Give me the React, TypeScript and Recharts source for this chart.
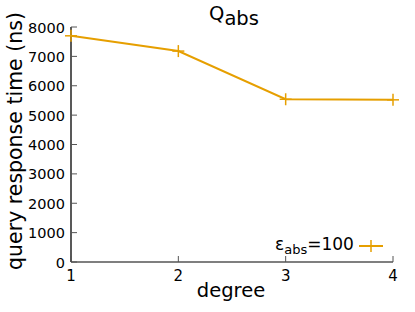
import { LineChart, Line, XAxis, YAxis, Legend } from 'recharts';

const degrees = [1, 2, 3, 4];
const responseTime = [7700, 7180, 5540, 5520];
const xTicks = [1, 2, 3, 4];
const yTicks = [0, 1000, 2000, 3000, 4000, 5000, 6000, 7000, 8000];

const ORANGE = '#e69f00';
const AXIS = '#555';
const FONT = 'DejaVu Sans, sans-serif';

const data = degrees.map((d, i) => ({ degree: d, time: responseTime[i] }));

const Cross = (props: any) => {
  const { cx, cy } = props;
  if (cx == null || cy == null) return null;
  return (
    <g stroke={ORANGE} strokeWidth={1.5}>
      <line x1={cx - 6} y1={cy} x2={cx + 6} y2={cy} />
      <line x1={cx} y1={cy - 6} x2={cx} y2={cy + 6} />
    </g>
  );
};

const BottomTick = (props: any) => {
  const { x, y, payload } = props;
  return (
    <g>
      <line x1={x} y1={y} x2={x} y2={y - 6} stroke={AXIS} strokeWidth={1} />
      <text x={x} y={y + 19} textAnchor="middle" fontSize={15} fill="#000" fontFamily={FONT}>
        {payload.value}
      </text>
    </g>
  );
};

const TopTick = (props: any) => {
  const { x, y } = props;
  return <line x1={x} y1={y} x2={x} y2={y + 6} stroke={AXIS} strokeWidth={1} />;
};

const LeftTick = (props: any) => {
  const { x, y, payload } = props;
  return (
    <g>
      <line x1={x} y1={y} x2={x + 6} y2={y} stroke={AXIS} strokeWidth={1} />
      <text x={x - 6} y={y + 5.5} textAnchor="end" fontSize={14.5} fill="#000" fontFamily={FONT}>
        {payload.value}
      </text>
    </g>
  );
};

const RightTick = (props: any) => {
  const { x, y } = props;
  return <line x1={x} y1={y} x2={x - 6} y2={y} stroke={AXIS} strokeWidth={1} />;
};

const LegendContent = () => (
  <div style={{ display: 'flex', alignItems: 'center', fontFamily: FONT, fontSize: 17, color: '#000', whiteSpace: 'nowrap' }}>
    <span>
      ε<sub style={{ fontSize: 13, verticalAlign: '-4px' }}>abs</sub>=100
    </span>
    <svg width={26} height={14} style={{ marginLeft: 4 }}>
      <line x1={1} y1={7} x2={25} y2={7} stroke={ORANGE} strokeWidth={2} />
      <line x1={13} y1={1} x2={13} y2={13} stroke={ORANGE} strokeWidth={1.5} />
    </svg>
  </div>
);

export default function App() {
  return (
    <div style={{ position: 'absolute', left: 0, top: 0, width: 415, height: 312, background: '#fff' }}>
      <LineChart width={415} height={312} data={data} margin={{ top: 27, right: 22, left: 0, bottom: 0 }}>
        <XAxis
          xAxisId="b"
          dataKey="degree"
          type="number"
          domain={[1, 4]}
          ticks={xTicks}
          height={50}
          tickSize={0}
          tickMargin={0}
          tick={<BottomTick />}
          axisLine={{ stroke: AXIS, strokeWidth: 1.5 }}
          tickLine={false}
        />
        <XAxis
          xAxisId="t"
          orientation="top"
          dataKey="degree"
          type="number"
          domain={[1, 4]}
          ticks={xTicks}
          height={0}
          tickSize={0}
          tickMargin={0}
          tick={<TopTick />}
          axisLine={{ stroke: '#999', strokeWidth: 1 }}
          tickLine={false}
        />
        <YAxis
          yAxisId="l"
          type="number"
          domain={[0, 8000]}
          ticks={yTicks}
          width={71}
          tickSize={0}
          tickMargin={0}
          tick={<LeftTick />}
          axisLine={{ stroke: '#222', strokeWidth: 1.5 }}
          tickLine={false}
        />
        <YAxis
          yAxisId="r"
          orientation="right"
          type="number"
          domain={[0, 8000]}
          ticks={yTicks}
          width={0}
          tickSize={0}
          tickMargin={0}
          tick={<RightTick />}
          axisLine={{ stroke: AXIS, strokeWidth: 1.5 }}
          tickLine={false}
        />
        <Legend
          layout="horizontal"
          verticalAlign="middle"
          align="center"
          wrapperStyle={{ left: 275, top: 234, width: 'auto' }}
          content={<LegendContent />}
        />
        <Line
          xAxisId="b"
          yAxisId="l"
          dataKey="time"
          stroke={ORANGE}
          strokeWidth={2}
          dot={<Cross />}
          activeDot={false}
          isAnimationActive={false}
        />
        <text x={234} y={20} textAnchor="middle" fontFamily={FONT} fontSize={19.5} fill="#000">
          <tspan>Q</tspan>
          <tspan dy={5}>abs</tspan>
        </text>
        <text x={231} y={297} textAnchor="middle" fontFamily={FONT} fontSize={19.5} fill="#000">
          degree
        </text>
        <text
          x={0}
          y={0}
          transform="translate(22,141) rotate(-90)"
          textAnchor="middle"
          fontFamily={FONT}
          fontSize={20.5}
          fill="#000"
        >
          query response time (ns)
        </text>
      </LineChart>
    </div>
  );
}
